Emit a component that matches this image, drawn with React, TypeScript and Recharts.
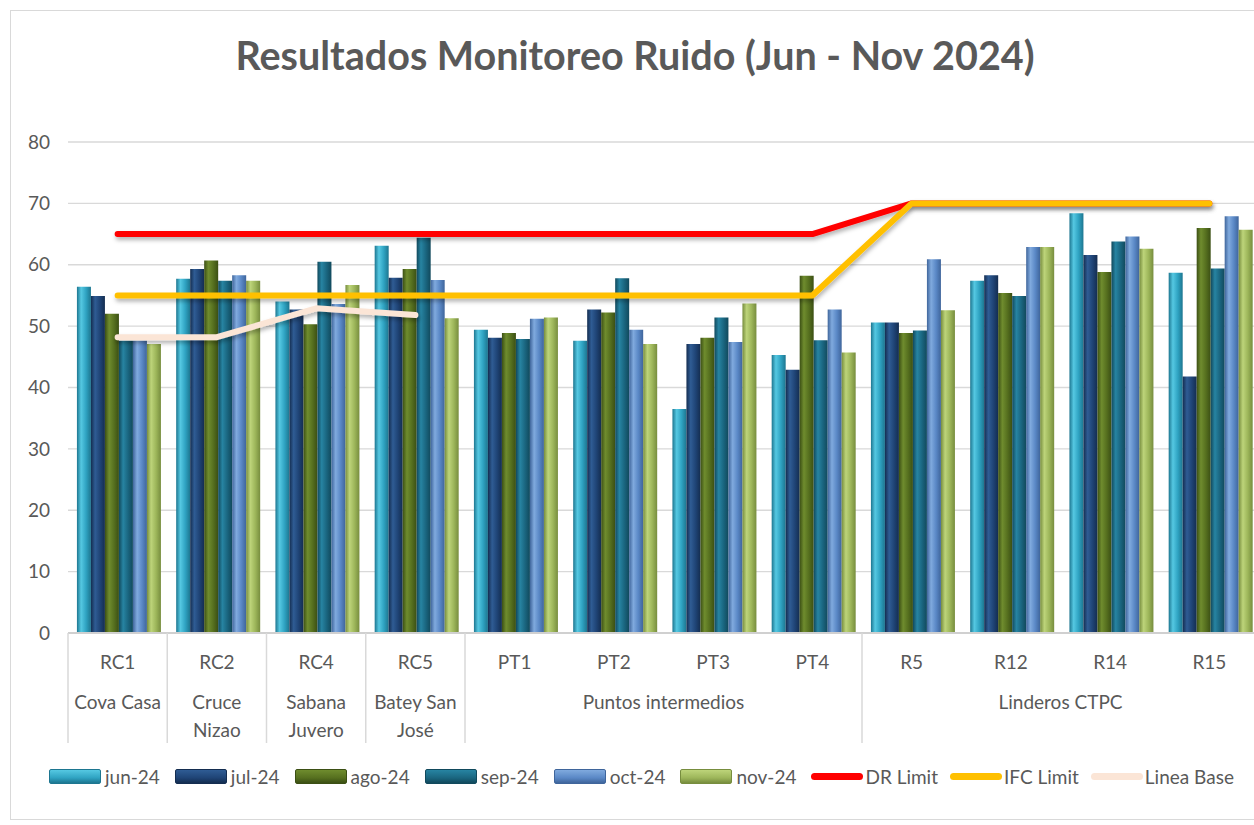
import React from 'react'
import {
  ComposedChart,
  Bar,
  Line,
  XAxis,
  YAxis,
  CartesianGrid,
} from 'recharts'

const sites = ['RC1', 'RC2', 'RC4', 'RC5', 'PT1', 'PT2', 'PT3', 'PT4', 'R5', 'R12', 'R14', 'R15']

// groups of the second axis row: label lines + how many sites they cover
const groups: { lines: string[]; span: number }[] = [
  { lines: ['Cova Casa'], span: 1 },
  { lines: ['Cruce', 'Nizao'], span: 1 },
  { lines: ['Sabana', 'Juvero'], span: 1 },
  { lines: ['Batey San', 'José'], span: 1 },
  { lines: ['Puntos intermedios'], span: 4 },
  { lines: ['Linderos CTPC'], span: 4 },
]

const jun24 = [56.4, 57.7, 54.0, 63.1, 49.4, 47.6, 36.5, 45.3, 50.6, 57.4, 68.4, 58.7]
const jul24 = [54.9, 59.3, 52.7, 57.9, 48.1, 52.7, 47.1, 42.9, 50.6, 58.3, 61.6, 41.8]
const ago24 = [52.0, 60.7, 50.3, 59.3, 48.9, 52.2, 48.1, 58.2, 48.9, 55.4, 58.8, 66.0]
const sep24 = [47.6, 57.4, 60.5, 64.4, 47.9, 57.8, 51.4, 47.7, 49.3, 54.9, 63.8, 59.4]
const oct24 = [47.6, 58.3, 53.6, 57.5, 51.2, 49.4, 47.4, 52.7, 60.9, 62.9, 64.6, 67.9]
const nov24 = [47.1, 57.4, 56.7, 51.3, 51.4, 47.1, 53.7, 45.7, 52.6, 62.9, 62.6, 65.7]

const drLimit = [65, 65, 65, 65, 65, 65, 65, 65, 70, 70, 70, 70]
const ifcLimit = [55, 55, 55, 55, 55, 55, 55, 55, 70, 70, 70, 70]
const lineaBase: (number | null)[] = [48.2, 48.2, 52.9, 51.8, null, null, null, null, null, null, null, null]

const yTicks = [0, 10, 20, 30, 40, 50, 60, 70, 80]

const barSeries = [
  { key: 'jun', name: 'jun-24', values: jun24, base: '#2fa3c2', light: '#55c8e2', dark: '#1d7690' },
  { key: 'jul', name: 'jul-24', values: jul24, base: '#1f4476', light: '#2f5c94', dark: '#142d50' },
  { key: 'ago', name: 'ago-24', values: ago24, base: '#56701f', light: '#6f8c2e', dark: '#3b4f14' },
  { key: 'sep', name: 'sep-24', values: sep24, base: '#1a6680', light: '#2784a2', dark: '#11495c' },
  { key: 'oct', name: 'oct-24', values: oct24, base: '#5a88c6', light: '#80aade', dark: '#3f659b' },
  { key: 'nov', name: 'nov-24', values: nov24, base: '#9db65a', light: '#bdd47a', dark: '#778d3e' },
]

const lineSeries = [
  { key: 'dr', name: 'DR Limit', values: drLimit, color: '#ff0000' },
  { key: 'ifc', name: 'IFC Limit', values: ifcLimit, color: '#ffc000' },
  { key: 'base', name: 'Linea Base', values: lineaBase, color: '#fbe5d6' },
]

const data = sites.map((site, i) => {
  const row: Record<string, string | number | null> = { site }
  barSeries.forEach((s) => (row[s.key] = s.values[i]))
  lineSeries.forEach((s) => (row[s.key] = s.values[i]))
  return row
})

const FONT = 'Lato, "Open Sans", sans-serif'
const TEXT = '#595959'

// index of the first site of each group
const groupStarts: Record<number, { lines: string[]; span: number }> = {}
{
  let idx = 0
  groups.forEach((g) => {
    groupStarts[idx] = g
    idx += g.span
  })
}

function SiteTick(props: any) {
  const { x, y, payload, index } = props
  const half = payload?.offset || 49.6
  const g = groupStarts[index]
  return (
    <g>
      <text x={x} y={y + 36} textAnchor="middle" fill={TEXT} fontSize={19} fontFamily={FONT}>
        {payload.value}
      </text>
      {g && (
        <>
          <line x1={x - half} x2={x - half} y1={y} y2={y + 110} stroke="#d9d9d9" strokeWidth={1.5} />
          <text textAnchor="middle" fill={TEXT} fontSize={19} fontFamily={FONT}>
            {g.lines.map((l, k) => (
              <tspan key={k} x={x + (g.span - 1) * half} y={y + 76 + k * 28}>
                {l}
              </tspan>
            ))}
          </text>
        </>
      )}
    </g>
  )
}

function ChartLegend() {
  return (
    <div
      style={{
        position: 'absolute',
        left: 49,
        top: 765,
        display: 'flex',
        alignItems: 'center',
        whiteSpace: 'nowrap',
        fontFamily: FONT,
        fontSize: 19,
        color: TEXT,
      }}
    >
      {barSeries.map((s) => (
        <div key={s.key} style={{ display: 'flex', alignItems: 'center', marginRight: 15 }}>
          <span
            style={{
              width: 50,
              height: 13,
              marginRight: 4,
              border: `1px solid ${s.dark}`,
              borderRadius: 2,
              background: `linear-gradient(to bottom, ${s.light}, ${s.base} 60%, ${s.dark})`,
            }}
          />
          {s.name}
        </div>
      ))}
      {lineSeries.map((s) => (
        <div key={s.key} style={{ display: 'flex', alignItems: 'center', marginRight: 12 }}>
          <span style={{ width: 52, height: 7, borderRadius: 4, marginRight: 2, background: s.color }} />
          {s.name}
        </div>
      ))}
    </div>
  )
}

export default function App() {
  return (
    <div style={{ position: 'absolute', left: 0, top: 0, width: 1254, height: 825, background: '#fff', overflow: 'hidden' }}>
      <div
        style={{
          position: 'absolute',
          left: 10,
          top: 10,
          width: 1250,
          height: 810,
          border: '1px solid #d9d9d9',
          boxSizing: 'border-box',
        }}
      />
      <div
        style={{
          position: 'absolute',
          left: 0,
          top: 31,
          width: 1270,
          textAlign: 'center',
          fontFamily: FONT,
          fontWeight: 700,
          fontSize: 39.5,
          color: TEXT,
          whiteSpace: 'nowrap',
        }}
      >
        Resultados Monitoreo Ruido (Jun - Nov 2024)
      </div>
      <ComposedChart
        width={1254}
        height={825}
        data={data}
        margin={{ top: 142, right: -5, bottom: 72, left: 0 }}
        barCategoryGap="9%"
        barGap={0}
        style={{ position: 'absolute', left: 0, top: 0 }}
      >
        <defs>
          {barSeries.map((s) => (
            <linearGradient key={s.key} id={`grad-${s.key}`} x1="0" y1="0" x2="1" y2="0">
              <stop offset="0%" stopColor={s.dark} />
              <stop offset="30%" stopColor={s.light} />
              <stop offset="65%" stopColor={s.base} />
              <stop offset="100%" stopColor={s.dark} />
            </linearGradient>
          ))}
          <filter id="lineShadow" x="-5%" y="-50%" width="110%" height="200%">
            <feDropShadow dx="1" dy="3" stdDeviation="2" floodColor="#000" floodOpacity="0.3" />
          </filter>
        </defs>
        <CartesianGrid vertical={false} stroke="#d9d9d9" strokeWidth={1.3} />
        <XAxis
          dataKey="site"
          interval={0}
          tickLine={false}
          tickSize={0}
          tickMargin={0}
          height={120}
          axisLine={{ stroke: '#d0d0d0', strokeWidth: 2 }}
          tick={<SiteTick />}
        />
        <YAxis
          domain={[0, 80]}
          ticks={yTicks}
          width={68}
          axisLine={false}
          tickLine={false}
          tickMargin={12}
          tick={{ fontSize: 19, fill: TEXT, fontFamily: FONT }}
        />
        {barSeries.map((s) => (
          <Bar key={s.key} dataKey={s.key} name={s.name} fill={`url(#grad-${s.key})`} isAnimationActive={false} />
        ))}
        {lineSeries.map((s) => (
          <Line
            key={s.key}
            type="linear"
            dataKey={s.key}
            name={s.name}
            stroke={s.color}
            strokeWidth={6}
            strokeLinecap="round"
            strokeLinejoin="round"
            dot={false}
            activeDot={false}
            filter="url(#lineShadow)"
            isAnimationActive={false}
          />
        ))}
      </ComposedChart>
      <ChartLegend />
    </div>
  )
}
